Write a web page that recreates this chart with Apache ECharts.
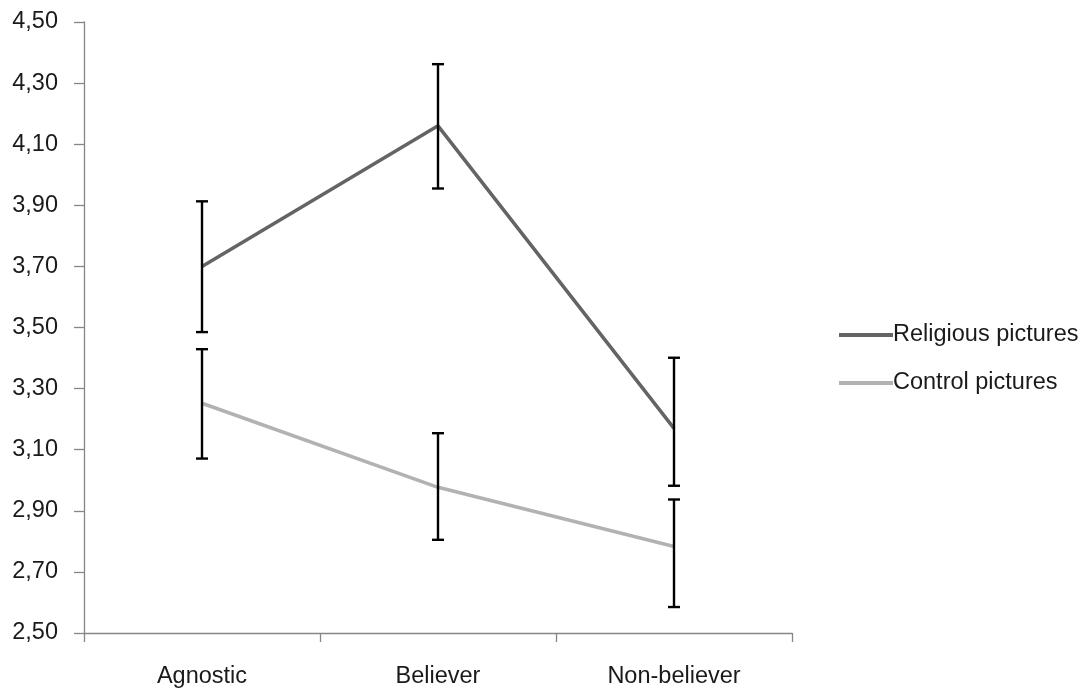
<!DOCTYPE html>
<html>
<head>
<meta charset="utf-8">
<script src="https://cdn.jsdelivr.net/npm/echarts@6/dist/echarts.min.js"></script>
<style>
html,body{margin:0;padding:0;background:#fff;}
#chart{width:1081px;height:689px;}
</style>
</head>
<body>
<div id="chart"></div>
<script>
const categories = ['Agnostic', 'Believer', 'Non-believer'];
const seriesNames = ['Religious pictures', 'Control pictures'];
const religious = [3.70, 4.16, 3.17];
const religiousLow = [3.485, 3.955, 2.982];
const religiousHigh = [3.913, 4.362, 3.401];
const control = [3.252, 2.977, 2.783];
const controlLow = [3.071, 2.805, 2.585];
const controlHigh = [3.429, 3.154, 2.937];

const FONT = 'Liberation Sans';
const FS = 23.5;
const chart = echarts.init(document.getElementById('chart'), null, {renderer: 'canvas'});

function errData(low, high) {
  return categories.map((c, i) => [i, low[i], high[i]]);
}
function renderErr(params, api) {
  const x = api.value(0), lo = api.value(1), hi = api.value(2);
  const pHi = api.coord([x, hi]);
  const pLo = api.coord([x, lo]);
  const hw = 6;
  const style = {stroke: '#000', lineWidth: 2.4};
  return {
    type: 'group',
    children: [
      {type: 'line', shape: {x1: pHi[0], y1: pHi[1], x2: pLo[0], y2: pLo[1]}, style: style},
      {type: 'line', shape: {x1: pHi[0] - hw, y1: pHi[1], x2: pHi[0] + hw, y2: pHi[1]}, style: style},
      {type: 'line', shape: {x1: pLo[0] - hw, y1: pLo[1], x2: pLo[0] + hw, y2: pLo[1]}, style: style}
    ]
  };
}

chart.setOption({
  animation: false,
  backgroundColor: '#fff',
  grid: {left: 84, right: 289, top: 22, bottom: 56, containLabel: false},
  legend: {
    data: seriesNames,
    orient: 'vertical',
    left: 834,
    top: 318,
    itemWidth: 54,
    itemHeight: 4,
    itemGap: 24,
    icon: 'rect',
    textStyle: {fontFamily: FONT, fontSize: FS, color: '#1a1a1a', padding: [0, 0, 0, -5]}
  },
  xAxis: {
    type: 'category',
    data: categories,
    boundaryGap: true,
    axisLine: {lineStyle: {color: '#868686', width: 1.3}},
    axisTick: {show: true, length: 9, lineStyle: {color: '#868686', width: 1.3}},
    axisLabel: {fontFamily: FONT, fontSize: FS, color: '#1a1a1a', margin: 32}
  },
  yAxis: {
    type: 'value',
    min: 2.5,
    max: 4.5,
    interval: 0.2,
    splitLine: {show: false},
    axisLine: {show: true, lineStyle: {color: '#868686', width: 1.3}},
    axisTick: {show: true, length: 10, lineStyle: {color: '#868686', width: 1.3}},
    axisLabel: {
      fontFamily: FONT, fontSize: FS, color: '#1a1a1a', margin: 26,
      formatter: v => v.toFixed(2).replace('.', ',')
    }
  },
  series: [
    {
      name: seriesNames[0], type: 'line', data: religious, symbol: 'none',
      lineStyle: {color: '#646464', width: 3.5}, itemStyle: {color: '#646464'}, z: 2
    },
    {
      name: seriesNames[1], type: 'line', data: control, symbol: 'none',
      lineStyle: {color: '#b2b2b2', width: 3.5}, itemStyle: {color: '#b2b2b2'}, z: 2
    },
    {type: 'custom', name: 'errR', data: errData(religiousLow, religiousHigh), renderItem: renderErr, z: 5, silent: true},
    {type: 'custom', name: 'errC', data: errData(controlLow, controlHigh), renderItem: renderErr, z: 5, silent: true}
  ]
});
</script>
</body>
</html>
